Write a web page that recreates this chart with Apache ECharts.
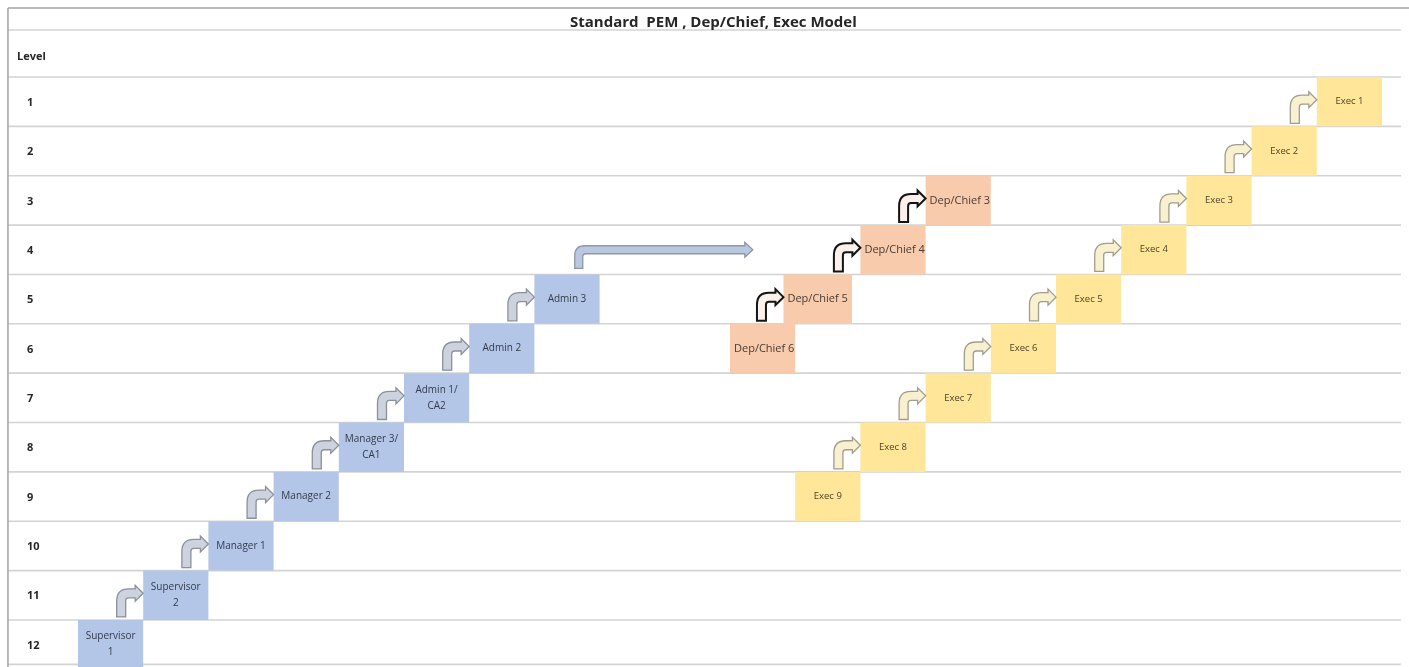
<!DOCTYPE html>
<html><head><meta charset="utf-8">
<script src="https://cdn.jsdelivr.net/npm/echarts@6/dist/echarts.min.js"></script>
<style>html,body{margin:0;padding:0;background:#fff}#c{width:1409px;height:667px}</style>
</head><body><div id="c"></div>
<script>
// ---------------- data ----------------
const titleText = 'Standard  PEM , Dep/Chief, Exec Model';
const levelHeader = 'Level';
const levelLabels = ['1','2','3','4','5','6','7','8','9','10','11','12'];

const blueLabels = ['Supervisor\n1','Supervisor\n2','Manager 1','Manager 2','Manager 3/\nCA1','Admin 1/\nCA2','Admin 2','Admin 3'];
const blueStart  = [0,1,2,3,4,5,6,7];
const blueEnd    = [1,2,3,4,5,6,7,8];
const blueLevels = [12,11,10,9,8,7,6,5];

const depLabels = ['Dep/Chief 6','Dep/Chief 5','Dep/Chief 4','Dep/Chief 3'];
const depStart  = [10,10.82,12,13];
const depEnd    = [11,11.87,13,14];
const depLevels = [6,5,4,3];

const execLabels = ['Exec 9','Exec 8','Exec 7','Exec 6','Exec 5','Exec 4','Exec 3','Exec 2','Exec 1'];
const execStart  = [11,12,13,14,15,16,17,18,19];
const execEnd    = [12,13,14,15,16,17,18,19,20];
const execLevels = [9,8,7,6,5,4,3,2,1];

// transfer arrow: [stem column, tip column, level]
const transferArrow = [7.68, 10.35, 4];

// ---------------- layout constants ----------------
const X_MIN = -1.196, X_MAX = 20.414, Y_MIN = -1.56, Y_MAX = 11.953;
const TABLE_TOP = -1.398, HEADER_LINE = -0.952, TABLE_LEFT = -1.074, TABLE_RIGHT = 20.29, BOTTOM_LINE = 11.9;
const FONT = '"Open Sans", Lato, sans-serif';

const chart = echarts.init(document.getElementById('c'), null, {renderer: 'canvas'});

function boxSeries(starts, ends, levels, labels, fill, textColor, align, fontSize) {
  return {
    type: 'custom', silent: true, z: 3,
    data: starts.map((s, i) => [s, ends[i], levels[i]]),
    renderItem(params, api) {
      const s = api.value(0), e = api.value(1), lv = api.value(2);
      const p1 = api.coord([s, lv - 1]), p2 = api.coord([e, lv]);
      const x = p1[0], y = Math.min(p1[1], p2[1]);
      const w = p2[0] - p1[0], h = Math.abs(p2[1] - p1[1]);
      return {type: 'group', children: [
        {type: 'rect', shape: {x: x, y: y, width: w, height: h}, style: {fill: fill}},
        {type: 'text', z2: 5, x: align === 'left' ? x + 4 : x + w / 2, y: y + h / 2,
         style: {text: labels[params.dataIndex], align: align, verticalAlign: 'middle',
                 fill: textColor, font: fontSize + 'px ' + FONT, lineHeight: 16}}
      ]};
    }
  };
}

function arrowPath(xs, yb, xt, yc, t, hh, hl, R, r) {
  const xl = xs - t / 2, xr = xs + t / 2, yt = yc - t / 2, ybs = yc + t / 2;
  return 'M' + xl + ',' + yb + ' L' + xl + ',' + (yt + R) + ' Q' + xl + ',' + yt + ' ' + (xl + R) + ',' + yt +
    ' L' + (xt - hl) + ',' + yt + ' L' + (xt - hl) + ',' + (yc - hh) + ' L' + xt + ',' + yc +
    ' L' + (xt - hl) + ',' + (yc + hh) + ' L' + (xt - hl) + ',' + ybs + ' L' + (xr + r) + ',' + ybs +
    ' Q' + xr + ',' + ybs + ' ' + xr + ',' + (ybs + r) + ' L' + xr + ',' + yb + ' Z';
}

function arrowSeries(starts, levels, fill, stroke, lw) {
  const data = [];
  for (let i = 1; i < starts.length; i++) data.push([starts[i], levels[i]]);
  return {
    type: 'custom', silent: true, z: 4, data: data,
    renderItem(params, api) {
      const c = api.value(0), lv = api.value(1);
      const top = api.coord([c, lv - 1]), bot = api.coord([c, lv]);
      const rh = bot[1] - top[1];
      const xt = top[0], yc = top[1] + rh * 0.46, yb = bot[1] - 3;
      return {type: 'path', shape: {pathData: arrowPath(xt - 22, yb, xt, yc, 9, 8, 8, 12, 3)},
              style: {fill: fill, stroke: stroke, lineWidth: lw}};
    }
  };
}

const option = {
  animation: false,
  backgroundColor: '#ffffff',
  title: {text: titleText, left: 565, top: 10,
          textStyle: {fontFamily: FONT, fontSize: 15, fontWeight: 'bold', color: '#262626'}},
  grid: {left: 0, right: 0, top: 0, bottom: 0},
  xAxis: {type: 'value', min: X_MIN, max: X_MAX, show: false},
  yAxis: {type: 'value', min: Y_MIN, max: Y_MAX, inverse: true, show: false},
  series: [
    // table lines
    {
      type: 'custom', silent: true, z: 1,
      data: [[TABLE_TOP, 0], [HEADER_LINE, 1]].concat(levelLabels.map((l, i) => [i, 1])).concat([[BOTTOM_LINE, 1]]),
      renderItem(params, api) {
        const v = api.value(0), kind = api.value(1);
        const a = api.coord([TABLE_LEFT, v]), b = api.coord([kind === 0 ? X_MAX : TABLE_RIGHT, v]);
        return {type: 'line', shape: {x1: a[0], y1: a[1], x2: b[0], y2: b[1]},
                style: {stroke: kind === 0 ? '#a3a3a3' : '#d3d3d3', lineWidth: 1.6}};
      }
    },
    // left border
    {
      type: 'custom', silent: true, z: 1, data: [[TABLE_LEFT]],
      renderItem(params, api) {
        const a = api.coord([api.value(0), TABLE_TOP]), b = api.coord([api.value(0), Y_MAX]);
        return {type: 'line', shape: {x1: a[0], y1: a[1], x2: b[0], y2: b[1]},
                style: {stroke: '#a8a8a8', lineWidth: 1.6}};
      }
    },
    // level labels
    {
      type: 'custom', silent: true, z: 2,
      data: [[HEADER_LINE, -1]].concat(levelLabels.map((l, i) => [i + 1, i])),
      renderItem(params, api) {
        const idx = api.value(1);
        if (idx < 0) {
          const p = api.coord([TABLE_LEFT, (HEADER_LINE) / 2]);
          return {type: 'text', x: 17, y: p[1] + 3,
                  style: {text: levelHeader, verticalAlign: 'middle', fill: '#262626',
                          font: 'bold 11px ' + FONT}};
        }
        const p = api.coord([TABLE_LEFT, idx + 0.5]);
        return {type: 'text', x: 27, y: p[1] + 1,
                style: {text: levelLabels[idx], verticalAlign: 'middle', fill: '#262626',
                        font: 'bold 11px ' + FONT}};
      }
    },
    boxSeries(blueStart, blueEnd, blueLevels, blueLabels, '#b4c6e7', '#333b4a', 'center', 10),
    boxSeries(depStart, depEnd, depLevels, depLabels, '#f8cbad', '#4a3a31', 'left', 11),
    boxSeries(execStart, execEnd, execLevels, execLabels, '#ffe699', '#4f4526', 'center', 9.5),
    arrowSeries(blueStart, blueLevels, '#ccd3df', '#8b9099', 1.3),
    arrowSeries(depStart, depLevels, '#fbf1ea', '#141414', 2),
    arrowSeries(execStart, execLevels, '#f9f0d0', '#a19d8c', 1.3),
    // transfer arrow
    {
      type: 'custom', silent: true, z: 4, data: [transferArrow],
      renderItem(params, api) {
        const sc = api.value(0), tc = api.value(1), lv = api.value(2);
        const top = api.coord([sc, lv - 1]), bot = api.coord([sc, lv]);
        const tip = api.coord([tc, lv - 0.5]);
        return {type: 'path',
                shape: {pathData: arrowPath(top[0], bot[1] - 6, tip[0], tip[1], 8, 7.5, 8, 10, 3)},
                style: {fill: '#b9c7df', stroke: '#8e97a7', lineWidth: 1.3}};
      }
    }
  ]
};
chart.setOption(option);
</script></body></html>
